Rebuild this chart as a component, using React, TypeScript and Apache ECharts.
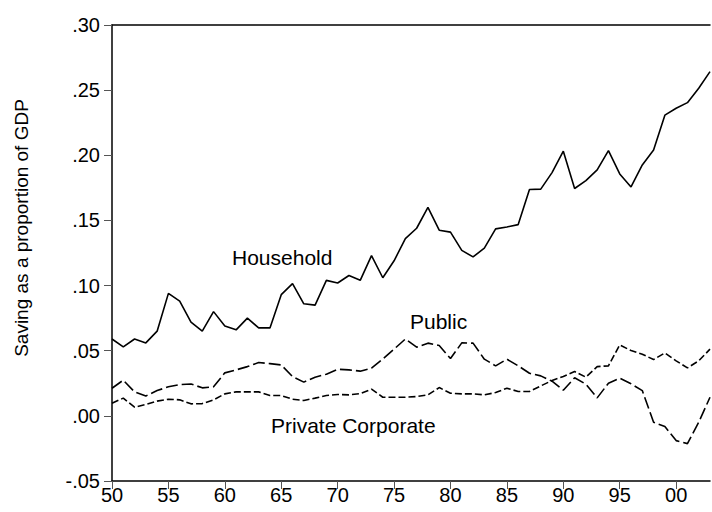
import React, { useEffect, useRef } from "react";
import * as echarts from "echarts";

const years: number[] = [];
for (let y = 1950; y <= 2003; y++) years.push(y);

const household = [
  0.059, 0.053, 0.059, 0.056, 0.065, 0.094, 0.088, 0.072, 0.065, 0.080,
  0.069, 0.066, 0.075, 0.0675, 0.0675, 0.093, 0.1015, 0.086, 0.085, 0.104,
  0.102, 0.1077, 0.104, 0.123, 0.106, 0.119, 0.136, 0.144, 0.160, 0.1425,
  0.141, 0.127, 0.122, 0.1287, 0.1435, 0.145, 0.1468, 0.1737, 0.174, 0.1867,
  0.2031, 0.1745, 0.1806, 0.1888, 0.2036, 0.1857, 0.1757, 0.1926, 0.2041, 0.2308,
  0.2361, 0.2404, 0.2515, 0.2642,
];

const publicSaving = [
  0.0212, 0.0274, 0.0184, 0.0153, 0.0194, 0.0223, 0.024, 0.0245, 0.0215, 0.0223,
  0.033, 0.0353, 0.0378, 0.0409, 0.0401, 0.0391, 0.0302, 0.0259, 0.0297, 0.032,
  0.0358, 0.0353, 0.0343, 0.0366, 0.0437, 0.0512, 0.059, 0.0527, 0.0558, 0.054,
  0.044, 0.056, 0.0558, 0.0435, 0.0384, 0.0435, 0.0384, 0.0327, 0.0307, 0.0266,
  0.0197, 0.0292, 0.0243, 0.0138, 0.0251, 0.0289, 0.0246, 0.0194, -0.0049, -0.0082,
  -0.019, -0.0213, -0.0049, 0.0143,
];

const privateCorporate = [
  0.0097, 0.0136, 0.0067, 0.0087, 0.0113, 0.0128, 0.0123, 0.0092, 0.0094, 0.0123,
  0.0169, 0.0184, 0.0184, 0.0184, 0.0156, 0.0156, 0.0128, 0.0118, 0.0136, 0.0156,
  0.0164, 0.0161, 0.0171, 0.0205, 0.0143, 0.0143, 0.0143, 0.0148, 0.0161, 0.0217,
  0.0174, 0.0169, 0.0169, 0.0161, 0.0179, 0.0212, 0.0187, 0.0187, 0.023, 0.0271,
  0.0302, 0.034, 0.0297, 0.0378, 0.0384, 0.0545, 0.0501, 0.0473, 0.0432, 0.0483,
  0.0422, 0.0368, 0.0422, 0.0512,
];

const xTickYears = [1950, 1955, 1960, 1965, 1970, 1975, 1980, 1985, 1990, 1995, 2000];

const seriesLabels = ["Household", "Public", "Private Corporate"];
const yAxisTitle = "Saving as a proportion of GDP";

const FONT = "Liberation Sans, Arial, sans-serif";

export default function App() {
  const ref = useRef<HTMLDivElement>(null);
  useEffect(() => {
    if (!ref.current) return;
    const chart = echarts.init(ref.current, undefined, { renderer: "svg" });
    const pair = (arr: number[]) => years.map((y, i) => [y, arr[i]]);
    const lbl = (v: number) => v.toFixed(2).replace("0.", ".");
    chart.setOption({
      animation: false,
      backgroundColor: "#ffffff",
      grid: { left: 112, right: 2, top: 25, bottom: 31, containLabel: false },
      xAxis: [
        {
          type: "value",
          min: 1950,
          max: 2003,
          interval: 5,
          splitLine: { show: false },
          axisLine: { show: true, onZero: false, lineStyle: { color: "#000", width: 1.5 } },
          axisTick: {
            show: true,
            length: 8,
            lineStyle: { color: "#555", width: 1 },
            customValues: xTickYears,
          },
          axisLabel: {
            customValues: xTickYears,
            formatter: (v: number) => String(v % 100).padStart(2, "0"),
            color: "#000",
            fontFamily: FONT,
            fontSize: 20,
            margin: 4,
          },
        },
        {
          type: "value",
          position: "top",
          min: 1950,
          max: 2003,
          splitLine: { show: false },
          axisLine: { show: true, onZero: false, lineStyle: { color: "#000", width: 1.5 } },
          axisTick: { show: false },
          axisLabel: { show: false },
        },
      ],
      yAxis: {
        type: "value",
        min: -0.05,
        max: 0.3,
        interval: 0.05,
        splitLine: { show: false },
        axisLine: { show: true, onZero: false, lineStyle: { color: "#000", width: 1.5 } },
        axisTick: { show: true, length: 8, lineStyle: { color: "#555", width: 1 } },
        axisLabel: {
          formatter: lbl,
          color: "#000",
          fontFamily: FONT,
          fontSize: 20,
          margin: 12,
        },
      },
      graphic: [
        {
          type: "text",
          x: 21,
          y: 228,
          rotation: Math.PI / 2,
          style: {
            text: yAxisTitle,
            font: `19px ${FONT}`,
            fill: "#000",
            align: "center",
            verticalAlign: "middle",
          },
        },
        {
          type: "text",
          x: 232,
          y: 257,
          style: { text: seriesLabels[0], font: `21px ${FONT}`, fill: "#000", verticalAlign: "middle" },
        },
        {
          type: "text",
          x: 410,
          y: 321,
          style: { text: seriesLabels[1], font: `21px ${FONT}`, fill: "#000", verticalAlign: "middle" },
        },
        {
          type: "text",
          x: 271,
          y: 425,
          style: { text: seriesLabels[2], font: `21px ${FONT}`, fill: "#000", verticalAlign: "middle" },
        },
      ],
      series: [
        {
          name: seriesLabels[0],
          type: "line",
          data: pair(household),
          symbol: "none",
          lineStyle: { color: "#000", width: 1.6, type: "solid" },
        },
        {
          name: seriesLabels[1],
          type: "line",
          data: pair(publicSaving),
          symbol: "none",
          lineStyle: { color: "#000", width: 1.6, type: [12, 4] },
        },
        {
          name: seriesLabels[2],
          type: "line",
          data: pair(privateCorporate),
          symbol: "none",
          lineStyle: { color: "#000", width: 1.6, type: [7, 3] },
        },
      ],
    });
    return () => chart.dispose();
  }, []);
  return (
    <div
      ref={ref}
      style={{ position: "absolute", left: 0, top: 0, width: 712, height: 512 }}
    />
  );
}
